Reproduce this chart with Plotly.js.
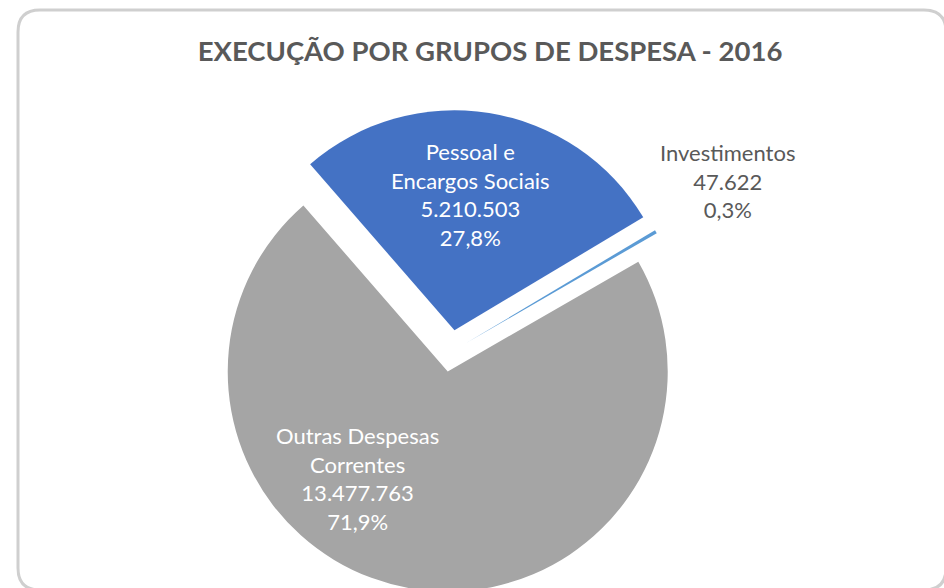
<!DOCTYPE html>
<html>
<head>
<meta charset="utf-8">
<script src="https://cdn.plot.ly/plotly-3.0.1.min.js"></script>
<style>
  html, body { margin: 0; padding: 0; background: #ffffff; overflow: hidden; width: 944px; height: 588px; }
  #chart { width: 944px; height: 660px; }
</style>
</head>
<body>
<div id="chart"></div>
<script>
// ---- data ----
const categories = ['Pessoal e Encargos Sociais', 'Investimentos', 'Outras Despesas Correntes'];
const categoryLines = ['Pessoal e<br>Encargos Sociais', 'Investimentos', 'Outras Despesas<br>Correntes'];
const values = [5210503, 47622, 13477763];
const chartTitle = 'EXECUÇÃO POR GRUPOS DE DESPESA - 2016';

// ---- layout constants ----
const W = 944, H = 660;
const cx = 451, cy = 352, R = 220;
const pulls = [0.10, 0.08, 0.09];
const maxPull = Math.max.apply(null, pulls);
const half = R * (1 + maxPull);
const FONT = 'Lato, "Open Sans", sans-serif';

const total = values.reduce((a, b) => a + b, 0);
function fmtInt(v) { return String(Math.round(v)).replace(/\B(?=(\d{3})+(?!\d))/g, '.'); }
function fmtPct(v) { return (v / total * 100).toFixed(1).replace('.', ',') + '%'; }
function labelText(i) { return categoryLines[i] + '<br>' + fmtInt(values[i]) + '<br>' + fmtPct(values[i]); }

const trace = {
  type: 'pie',
  labels: categories,
  values: values,
  sort: false,
  direction: 'clockwise',
  rotation: -41,
  pull: pulls,
  marker: { colors: ['#4472c4', '#5b9bd5', '#a5a5a5'], line: { width: 0 } },
  textinfo: 'none',
  hoverinfo: 'label+value+percent',
  showlegend: false,
  domain: {
    x: [(cx - half) / W, (cx + half) / W],
    y: [1 - (cy + half) / H, 1 - (cy - half) / H]
  }
};

// rounded frame path in paper coords
function P(x, y) { return (x / W).toFixed(5) + ',' + (1 - y / H).toFixed(5); }
const fx0 = 18, fy0 = 10, fx1 = 944 + 2, fy1 = 590, fr = 22;
const framePath = 'M ' + P(fx0, fy1 - fr) + ' L ' + P(fx0, fy0 + fr) + ' Q ' + P(fx0, fy0) + ' ' + P(fx0 + fr, fy0) +
  ' L ' + P(fx1 - fr, fy0) + ' Q ' + P(fx1, fy0) + ' ' + P(fx1, fy0 + fr) +
  ' L ' + P(fx1, fy1 - fr) + ' Q ' + P(fx1, fy1) + ' ' + P(fx1 - fr, fy1) +
  ' L ' + P(fx0 + fr, fy1) + ' Q ' + P(fx0, fy1) + ' ' + P(fx0, fy1 - fr) + ' Z';

function ann(i, x, y, color) {
  return {
    text: labelText(i), xref: 'paper', yref: 'paper',
    x: x / W, y: 1 - y / H, xanchor: 'center', yanchor: 'middle', showarrow: false,
    font: { family: FONT, size: 22, color: color }
  };
}

const layout = {
  width: W,
  height: H,
  margin: { l: 0, r: 0, t: 0, b: 0 },
  paper_bgcolor: '#ffffff',
  separators: ',.',
  title: {
    text: '<b>' + chartTitle + '</b>',
    font: { family: FONT, size: 27.5, color: '#595959' },
    x: 490 / W, xanchor: 'center', xref: 'paper',
    y: 1 - 51 / H, yanchor: 'middle', yref: 'container'
  },
  shapes: [{
    type: 'path', xref: 'paper', yref: 'paper', path: framePath,
    line: { color: '#cfcfcf', width: 3 }, fillcolor: 'rgba(0,0,0,0)', layer: 'below'
  }],
  annotations: [
    ann(0, 470, 194, '#ffffff'),
    ann(2, 357, 479, '#ffffff'),
    ann(1, 727, 181, '#595959')
  ]
};

Plotly.newPlot('chart', [trace], layout, { displayModeBar: false, staticPlot: true });
</script>
</body>
</html>
